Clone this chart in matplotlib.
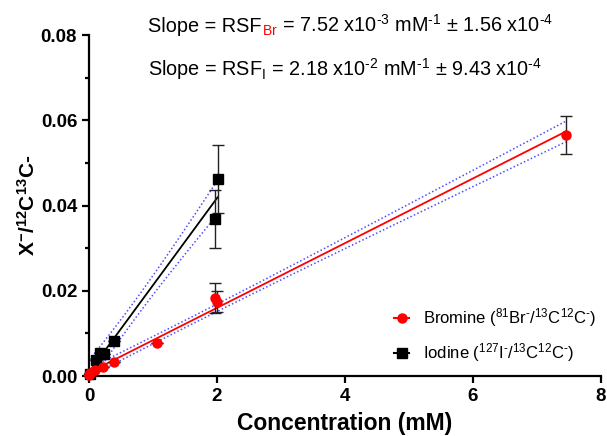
import numpy as np
import matplotlib
matplotlib.use("Agg")
import matplotlib.pyplot as plt
from matplotlib.lines import Line2D

plt.rcParams['font.family'] = ['Liberation Sans', 'DejaVu Sans']
plt.rcParams['mathtext.fontset'] = 'custom'
plt.rcParams['mathtext.rm'] = 'Liberation Sans'
plt.rcParams['mathtext.it'] = 'Liberation Sans:italic'
plt.rcParams['mathtext.bf'] = 'Liberation Sans:bold'

# data
br_x = [0.0, 0.02, 0.09, 0.22, 0.39, 1.06, 1.97, 2.0, 7.45]
br_y = [0.0002, 0.0006, 0.0014, 0.0021, 0.0033, 0.0077, 0.0183, 0.0174, 0.0565]
br_err = [0, 0, 0, 0, 0, 0, 0.0036, 0.0025, 0.0045]

i_x = [0.01, 0.11, 0.17, 0.23, 0.39, 1.97, 2.01]
i_y = [0.0004, 0.0038, 0.0054, 0.0052, 0.0082, 0.0368, 0.0462]
i_err = [0, 0, 0, 0, 0, 0.0068, 0.0080]

x_ticks = [0, 2, 4, 6, 8]
y_ticks = [0.00, 0.02, 0.04, 0.06, 0.08]


def fit_band(x, y):
    x = np.array(x)
    y = np.array(y)
    b, a = np.polyfit(x, y, 1)
    n = len(x)
    resid = y - (a + b * x)
    s = np.sqrt(np.sum(resid ** 2) / (n - 2))
    xs = np.linspace(x.min(), x.max(), 100)
    se = s * np.sqrt(1.0 / n + (xs - x.mean()) ** 2 / np.sum((x - x.mean()) ** 2))
    t = 2.0
    ys = a + b * xs
    return xs, ys, ys - t * se, ys + t * se


fig = plt.figure(figsize=(6.07, 4.36), dpi=100)
ax = fig.add_axes([0.1466, 0.1376, 0.8434, 0.7821])

for xx, yy, col in [(br_x, br_y, 'red'), (i_x, i_y, 'black')]:
    xs, ys, lo, hi = fit_band(xx, yy)
    ax.plot(xs, ys, color=col, lw=1.3, zorder=2)
    ax.plot(xs, lo, color='#4d4dff', lw=1.1, ls=(0, (1, 1.5)), zorder=2)
    ax.plot(xs, hi, color='#4d4dff', lw=1.1, ls=(0, (1, 1.5)), zorder=2)

ax.errorbar(br_x, br_y, yerr=br_err, fmt='o', color='red', ms=6.5, ecolor='#222222',
            elinewidth=1, capsize=4, capthick=1, clip_on=False, zorder=4)
ax.errorbar(i_x, i_y, yerr=i_err, fmt='s', color='black', ms=6.5, ecolor='#222222',
            elinewidth=1, capsize=4, capthick=1, clip_on=False, zorder=3)

ax.set_xlim(0, 8)
ax.set_ylim(0, 0.08)
ax.set_xticks(x_ticks)
ax.set_yticks(y_ticks)
ax.set_yticklabels([f'{v:.2f}' for v in y_ticks])
ax.set_yticks([0.01, 0.03, 0.05, 0.07], minor=True)
ax.spines['top'].set_visible(False)
ax.spines['right'].set_visible(False)
ax.spines['left'].set_linewidth(1.6)
ax.spines['bottom'].set_linewidth(1.6)
ax.tick_params(which='major', width=1.6, length=5, labelsize=13.5)
ax.tick_params(which='minor', width=1.6, length=3)
for lab in ax.get_xticklabels() + ax.get_yticklabels():
    lab.set_fontweight('bold')

ax.set_xlabel('Concentration (mM)', fontsize=16.5, fontweight='bold', labelpad=5)
ax.set_ylabel(r'X$^{\mathbf{-}}$/$^{\mathbf{12}}$C$^{\mathbf{13}}$C-', fontsize=15,
              fontweight='bold', labelpad=1)

handles = [
    Line2D([], [], color='red', marker='o', ms=6.5, lw=1.5),
    Line2D([], [], color='black', marker='s', ms=6.5, lw=1.5),
]
labels = [r'Bromine ($^{81}$Br$^{\text{-}}$/$^{13}$C$^{12}$C$^{\text{-}}$)',
          r'Iodine ($^{127}$I$^{\text{-}}$/$^{13}$C$^{12}$C$^{\text{-}}$)']
ax.legend(handles, labels, loc='lower right', frameon=False, fontsize=12, handlelength=0.9,
          handletextpad=0.8, bbox_to_anchor=(1.02, -0.01), labelspacing=0.75)

# slope annotations, Br subscript in red
fig.canvas.draw()
r = fig.canvas.get_renderer()


def chain(parts, x, y):
    for txt, col in parts:
        t = fig.text(x, y, txt, color=col, fontsize=14.3, transform=None)
        bb = t.get_window_extent(r)
        x = bb.x1


chain([('Slope = RSF', 'black'), (r'$_{\mathrm{Br}}$', 'red'),
       (r' = 7.52 x10$^{\text{-3}}$ mM$^{\text{-1}}$ $\pm$ 1.56 x10$^{\text{-4}}$', 'black')],
      148, 436 - 32)
chain([(r'Slope = RSF$_{\mathrm{I}}$ = 2.18 x10$^{\text{-2}}$ mM$^{\text{-1}}$ $\pm$ 9.43 x10$^{\text{-4}}$', 'black')],
      148, 436 - 76)

fig.savefig('out.png', dpi=100)
